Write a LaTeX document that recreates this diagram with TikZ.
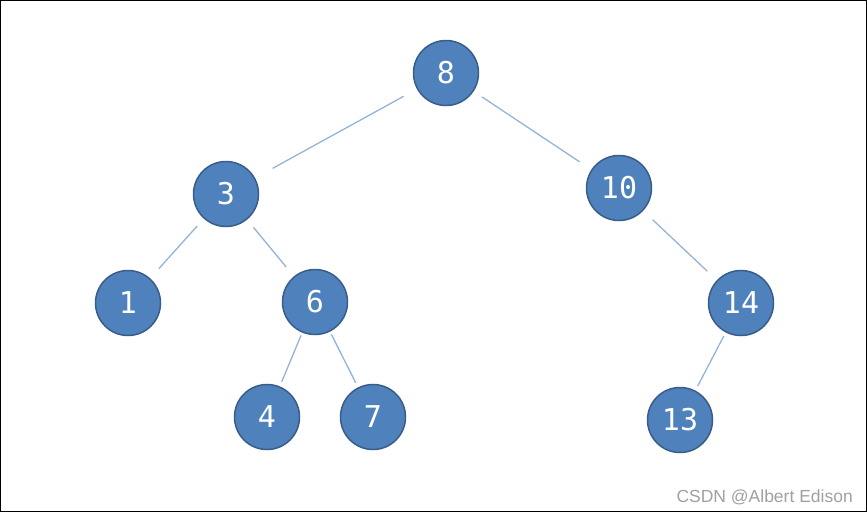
\documentclass[tikz,border=0pt]{standalone}
\usepackage{fontspec}
\setmainfont{Liberation Sans}
\setmonofont{DejaVu Sans Mono}
\definecolor{nodefill}{HTML}{4F81BD}
\definecolor{nodeline}{HTML}{385D8A}
\definecolor{edgecol}{HTML}{95B3D7}
\definecolor{wmark}{HTML}{A0A0A0}
\begin{document}
\begin{tikzpicture}[x=1pt,y=-1pt,
  treenode/.style={circle,fill=nodefill,draw=nodeline,line width=1.5pt,
    minimum size=65pt,inner sep=0pt,text=white,font=\ttfamily\fontsize{30}{30}\selectfont},
  edge/.style={draw=edgecol,line width=1.3pt}]
\useasboundingbox (0,0) rectangle (867,512);
\draw[black,line width=1pt] (0.5,0.5) rectangle (866.5,511.5);
\node[treenode] (n8)  at (446,73)  {8};
\node[treenode] (n3)  at (226,194) {3};
\node[treenode] (n10) at (619,188) {10};
\node[treenode] (n1)  at (128,303) {1};
\node[treenode] (n6)  at (315,302) {6};
\node[treenode] (n14) at (741,303) {14};
\node[treenode] (n4)  at (267,417) {4};
\node[treenode] (n7)  at (373,417) {7};
\node[treenode] (n13) at (680,420) {13};
\draw[edge,shorten <=15pt,shorten >=20pt] (n8) -- (n3);
\draw[edge,shorten <=10pt,shorten >=14pt] (n8) -- (n10);
\draw[edge,shorten <=10pt,shorten >=13pt] (n3) -- (n1);
\draw[edge,shorten <=10pt,shorten >=12pt] (n3) -- (n6);
\draw[edge,shorten <=13pt,shorten >=13pt] (n10) -- (n14);
\draw[edge,shorten <=3pt,shorten >=5pt] (n6) -- (n4);
\draw[edge,shorten <=3pt,shorten >=5pt] (n6) -- (n7);
\draw[edge,shorten <=4pt,shorten >=5pt] (n14) -- (n13);
\node[anchor=base east,text=wmark,font=\fontsize{17.5}{17.5}\selectfont,inner sep=0pt] (wm) at (853,502) {CSDN @Albert Edison};
\end{tikzpicture}
\end{document}
